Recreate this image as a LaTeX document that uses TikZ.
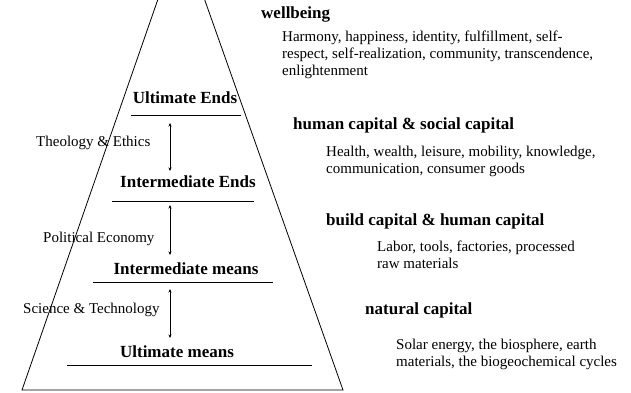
\documentclass[tikz,border=0pt]{standalone}
\usepackage{fontspec}
\setmainfont{Liberation Serif}
\usetikzlibrary{positioning, arrows.meta}

\begin{document}
\begin{tikzpicture}[
    x=1pt, y=-1pt,
    level/.style={font=\fontsize{17}{19}\selectfont\bfseries, inner sep=0pt, anchor=base},
    field/.style={font=\fontsize{15}{17}\selectfont, inner sep=0pt, anchor=base west},
    capital/.style={font=\fontsize{17}{19}\selectfont\bfseries, inner sep=0pt, anchor=base west},
    detail/.style={font=\fontsize{15}{17}\selectfont, inner sep=0pt, anchor=base west, align=left},
    rule/.style={line width=0.8pt},
    arrow/.style={{Stealth[length=3.5pt, width=3pt]}-{Stealth[length=3.5pt, width=3pt]}, line width=0.6pt}
]
    \useasboundingbox (0,0) rectangle (631,393);
    \clip (0,0) rectangle (631,393);

    % === Pyramid ===
    \draw[rule] (22,390) -- (181,-67) -- (343,390) -- cycle;

    % Levels
    \node[level] (ue) at (185,103) {Ultimate Ends};
    \node[level] (ie) at (188,187) {Intermediate Ends};
    \node[level] (im) at (186,274) {Intermediate means};
    \node[level] (um) at (177,357) {Ultimate means};

    % Rules under levels
    \draw[rule] (131,115) -- (241,115);
    \draw[rule] (112,201) -- (254,201);
    \draw[rule] (93,282) -- (273,282);
    \draw[rule] (67,365) -- (312,365);

    % Arrows between levels
    \coordinate (ueb) at (170,123);
    \coordinate (iet) at (170,171);
    \coordinate (ieb) at (170,205);
    \coordinate (imt) at (170,255);
    \coordinate (imb) at (170,289);
    \coordinate (umt) at (170,338);
    \draw[arrow] (ueb) -- (iet);
    \draw[arrow] (ieb) -- (imt);
    \draw[arrow] (imb) -- (umt);

    % Fields
    \node[field] (theo) at (36,146) {Theology \& Ethics};
    \node[field] (pol) at (43,242) {Political Economy};
    \node[field] (sci) at (23,313) {Science \& Technology};

    % === Capitals ===
    \node[capital] (wb) at (261,19) {wellbeing};
    \node[detail] (wbd) at (282,76) {Harmony, happiness, identity, fulfillment, self-\\respect, self-realization, community, transcendence,\\enlightenment};

    \node[capital] (hc) at (293,129) {human capital \& social capital};
    \node[detail] (hcd) at (326,173) {Health, wealth, leisure, mobility, knowledge,\\communication, consumer goods};

    \node[capital] (bc) at (326,225) {build capital \& human capital};
    \node[detail] (bcd) at (377,268) {Labor, tools, factories, processed\\raw materials};

    \node[capital] (nc) at (365,314) {natural capital};
    \node[detail] (ncd) at (396,366) {Solar energy, the biosphere, earth\\materials, the biogeochemical cycles};

\end{tikzpicture}
\end{document}
